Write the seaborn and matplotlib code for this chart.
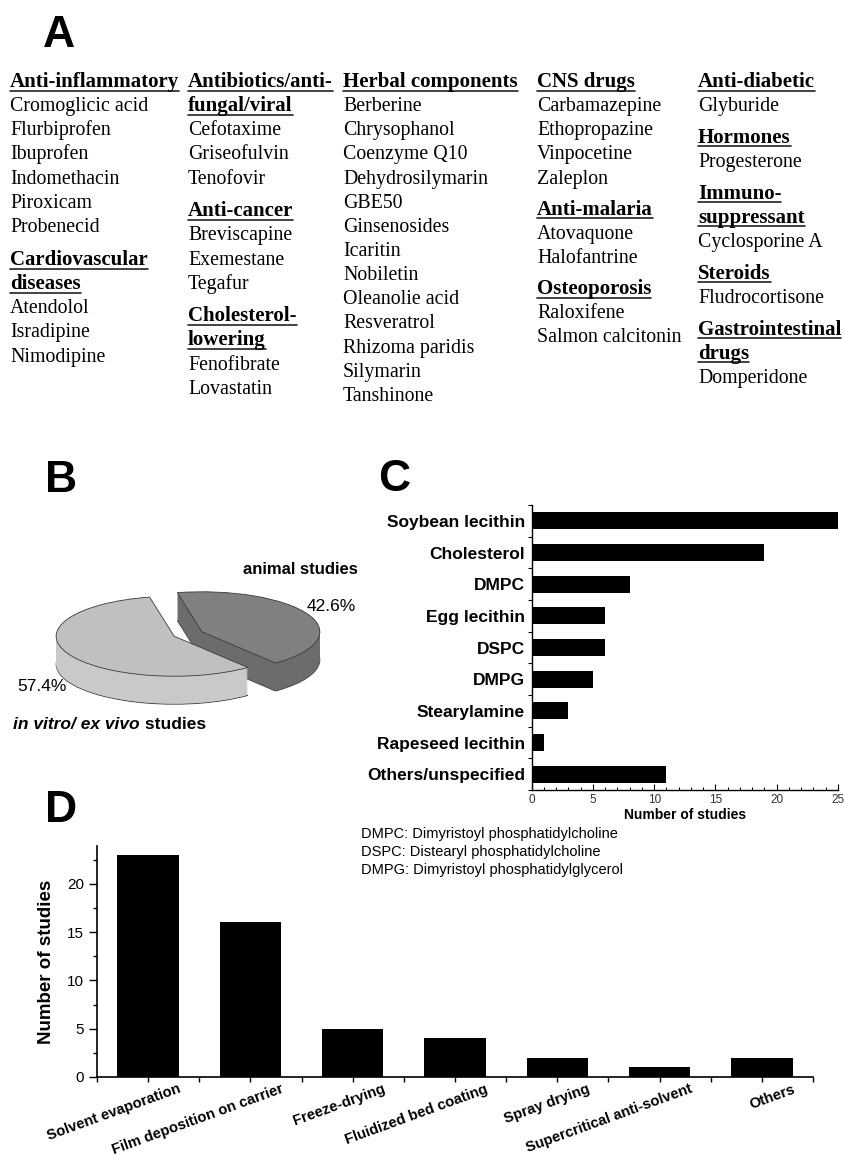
import numpy as np
import pandas as pd
import matplotlib
matplotlib.use("Agg")
import matplotlib.pyplot as plt
import matplotlib.transforms as mtransforms
from matplotlib.lines import Line2D
import seaborn as sns

# ---------------- data ----------------
# Panel A: drug classes and drugs
col1_groups = [("Anti-inflammatory", ["Cromoglicic acid", "Flurbiprofen", "Ibuprofen",
                                      "Indomethacin", "Piroxicam", "Probenecid"]),
               ("Cardiovascular\ndiseases", ["Atendolol", "Isradipine", "Nimodipine"])]
col2_groups = [("Antibiotics/anti-\nfungal/viral", ["Cefotaxime", "Griseofulvin", "Tenofovir"]),
               ("Anti-cancer", ["Breviscapine", "Exemestane", "Tegafur"]),
               ("Cholesterol-\nlowering", ["Fenofibrate", "Lovastatin"])]
col3_groups = [("Herbal components", ["Berberine", "Chrysophanol", "Coenzyme Q10",
                                      "Dehydrosilymarin", "GBE50", "Ginsenosides", "Icaritin",
                                      "Nobiletin", "Oleanolie acid", "Resveratrol",
                                      "Rhizoma paridis", "Silymarin", "Tanshinone"])]
col4_groups = [("CNS drugs", ["Carbamazepine", "Ethopropazine", "Vinpocetine", "Zaleplon"]),
               ("Anti-malaria", ["Atovaquone", "Halofantrine"]),
               ("Osteoporosis", ["Raloxifene", "Salmon calcitonin"])]
col5_groups = [("Anti-diabetic", ["Glyburide"]),
               ("Hormones", ["Progesterone"]),
               ("Immuno-\nsuppressant", ["Cyclosporine A"]),
               ("Steroids", ["Fludrocortisone"]),
               ("Gastrointestinal\ndrugs", ["Domperidone"])]

# Panel B: study types (%)
study_types = ["in vitro/ ex vivo studies", "animal studies"]
study_share = [57.4, 42.6]

# Panel C: lipids used
lipids = ["Soybean lecithin", "Cholesterol", "DMPC", "Egg lecithin", "DSPC", "DMPG",
          "Stearylamine", "Rapeseed lecithin", "Others/unspecified"]
lipid_counts = [25, 19, 8, 6, 6, 5, 3, 1, 11]

# Panel D: preparation methods
methods = ["Solvent evaporation", "Film deposition on carrier", "Freeze-drying",
           "Fluidized bed coating", "Spray drying", "Supercritical anti-solvent", "Others"]
method_counts = [23, 16, 5, 4, 2, 1, 2]

abbreviations = ["DMPC: Dimyristoyl phosphatidylcholine",
                 "DSPC: Distearyl phosphatidylcholine",
                 "DMPG: Dimyristoyl phosphatidylglycerol"]

# ---------------- style ----------------
sns.set_style("ticks")
plt.rcParams["font.family"] = ["Liberation Sans", "DejaVu Sans"]
plt.rcParams["axes.linewidth"] = 1.0
for key in ["text.color", "axes.labelcolor", "xtick.color", "ytick.color", "axes.edgecolor"]:
    plt.rcParams[key] = "black"

W, H = 845, 1155
fig = plt.figure(figsize=(W / 100, H / 100), dpi=100)


def fx(x):
    return x / W


def fy(y):
    return 1 - y / H


# panel letters
for letter, (lx, ly) in zip("ABCD", [(43, 47), (45, 492), (378, 491), (45, 822)]):
    fig.text(fx(lx), fy(ly), letter, fontsize=32, fontweight="bold", va="baseline", ha="left")

# ---------------- Panel A ----------------
serif = ["Liberation Serif", "DejaVu Serif"]
cols = [col1_groups, col2_groups, col3_groups, col4_groups, col5_groups]
col_x = [10, 188, 343, 537, 698]
col_gap = [9, 8.5, 0, 7, 7.6]
step = 24.15
base0 = 87
header_texts = []
for x, groups, gap in zip(col_x, cols, col_gap):
    y = base0
    for gi, (head, items) in enumerate(groups):
        if gi > 0:
            y += gap
        for line in head.split("\n"):
            t = fig.text(fx(x), fy(y), line, family=serif, fontweight="bold", fontsize=15,
                         va="baseline", ha="left")
            header_texts.append(t)
            y += step
        for it in items:
            fig.text(fx(x), fy(y), it, family=serif, fontsize=14.3, va="baseline", ha="left")
            y += step

fig.canvas.draw()
renderer = fig.canvas.get_renderer()
inv = fig.transFigure.inverted()
for t in header_texts:
    bb = t.get_window_extent(renderer)
    base_disp = fig.transFigure.transform(t.get_position())[1]
    yl = base_disp - 3.5
    p0 = inv.transform((bb.x0, yl))
    p1 = inv.transform((bb.x1, yl))
    fig.add_artist(Line2D([p0[0], p1[0]], [p0[1], p1[1]], transform=fig.transFigure,
                          color="#222222", linewidth=1.2))

# ---------------- Panel B (3D-like pie) ----------------
cx, cy, rx, ry = 188, 634, 118, 40
bx0, bx1, by0, by1 = 5, 357, 555, 740
axB = fig.add_axes([fx(bx0), fy(by1), (bx1 - bx0) / W, (by1 - by0) / H])
top_cols = ["#c0c0c0", "#808080"]
side_cols = ["#c9c9c9", "#6c6c6c"]
depth = 28 / ry
n_layers = 40
for k, d in enumerate(np.linspace(depth, 0, n_layers)):
    is_top = k == n_layers - 1
    is_bot = k == 0
    axB.pie(study_share, startangle=102, explode=[0.13, 0.13], center=(0, -d), radius=1,
            colors=top_cols if is_top else side_cols,
            wedgeprops=dict(edgecolor="#3a3a3a" if (is_top or is_bot) else "none",
                            linewidth=0.6))
axB.set_aspect("auto")
axB.set_xlim(-(cx - bx0) / rx, (bx1 - cx) / rx)
axB.set_ylim(-(by1 - cy) / ry, (cy - by0) / ry)
axB.axis("off")

pct = [f"{v:.1f}%" for v in study_share]
axB.text((307 - cx) / rx, (cy - 607) / ry, pct[1], fontsize=12.5, ha="left", va="center",
         clip_on=True)
axB.text((17 - cx) / rx, (cy - 687) / ry, pct[0], fontsize=12.5, ha="left", va="center",
         clip_on=True)
axB.text((243 - cx) / rx, (cy - 570) / ry, study_types[1], fontsize=12, fontweight="bold",
         ha="left", va="center", clip_on=True)
pre, post = study_types[0].rsplit(" ", 1)
t1 = axB.text((13 - cx) / rx, (cy - 725) / ry, pre, fontsize=12.5, fontweight="bold",
              fontstyle="italic", ha="left", va="center")
axB.annotate(" " + post, xy=(1, 0.5), xycoords=t1, fontsize=12.5, fontweight="bold",
             ha="left", va="center")

# ---------------- Panel C ----------------
axC = fig.add_axes([fx(531.7), fy(790), (838 - 531.7) / W, (790 - 505) / H])
dfC = pd.DataFrame({"lipid": lipids, "n": lipid_counts})
sns.barplot(data=dfC, x="n", y="lipid", orient="h", color="black", width=0.53,
            saturation=1, edgecolor="black", linewidth=0, ax=axC)
axC.set_xlim(0, 25)
axC.set_ylim(8.5, -0.5)
sns.despine(ax=axC)
axC.set_xticks(np.arange(0, 26, 5))
axC.set_xticks(np.arange(0, 26, 1), minor=True)
axC.set_yticks(np.arange(-0.5, 9, 1), minor=True)
axC.tick_params(axis="x", which="major", direction="in", length=4, width=0.8, pad=3,
                labelsize=8.5, labelcolor="#333333")
axC.tick_params(axis="x", which="minor", direction="in", length=2.5, width=0.7)
axC.tick_params(axis="y", which="major", length=0, pad=5, labelsize=12.5)
axC.tick_params(axis="y", which="minor", direction="out", length=3, width=0.8)
for lab in axC.get_yticklabels():
    lab.set_fontweight("bold")
axC.set_ylabel("")
axC.set_xlabel("Number of studies", fontsize=10, fontweight="bold", labelpad=1)

# ---------------- Panel D ----------------
axD = fig.add_axes([fx(97), fy(1077), (813 - 97) / W, (1077 - 846) / H])
dfD = pd.DataFrame({"method": methods, "n": method_counts})
sns.barplot(data=dfD, x="method", y="n", color="black", width=0.6, saturation=1,
            edgecolor="black", linewidth=0, ax=axD)
axD.set_xlim(-0.5, 6.5)
axD.set_ylim(0, 23.9)
sns.despine(ax=axD)
for sp in ["left", "bottom"]:
    axD.spines[sp].set_linewidth(1.2)
axD.set_yticks(np.arange(0, 21, 5))
axD.set_yticks(np.arange(0, 23.9, 2.5), minor=True)
axD.set_xticks(np.arange(len(methods)))
axD.set_xticks(np.arange(-0.5, len(methods), 1), minor=True)
axD.set_xticklabels(methods, rotation=20, ha="right", va="top", rotation_mode="anchor",
                    fontweight="bold", fontsize=10.6)
axD.tick_params(axis="y", which="major", direction="out", length=6, width=1.0, pad=3.5,
                labelsize=11)
axD.tick_params(axis="y", which="minor", direction="out", length=3, width=1.0)
axD.tick_params(axis="x", which="both", direction="out", length=3.6, width=1.0, pad=0)
offset = mtransforms.ScaledTranslation(0.30, 0, fig.dpi_scale_trans)
for lab in axD.get_xticklabels():
    lab.set_transform(lab.get_transform() + offset)
axD.set_xlabel("")
axD.set_ylabel("Number of studies", fontsize=13.5, fontweight="bold")
axD.yaxis.set_label_coords((55 - 97) / 716, 0.5)

for i, s in enumerate(abbreviations):
    fig.text(fx(361), fy(838 + 18 * i), s, fontsize=10.5, va="baseline", ha="left")

fig.savefig("out.png", dpi=100)
